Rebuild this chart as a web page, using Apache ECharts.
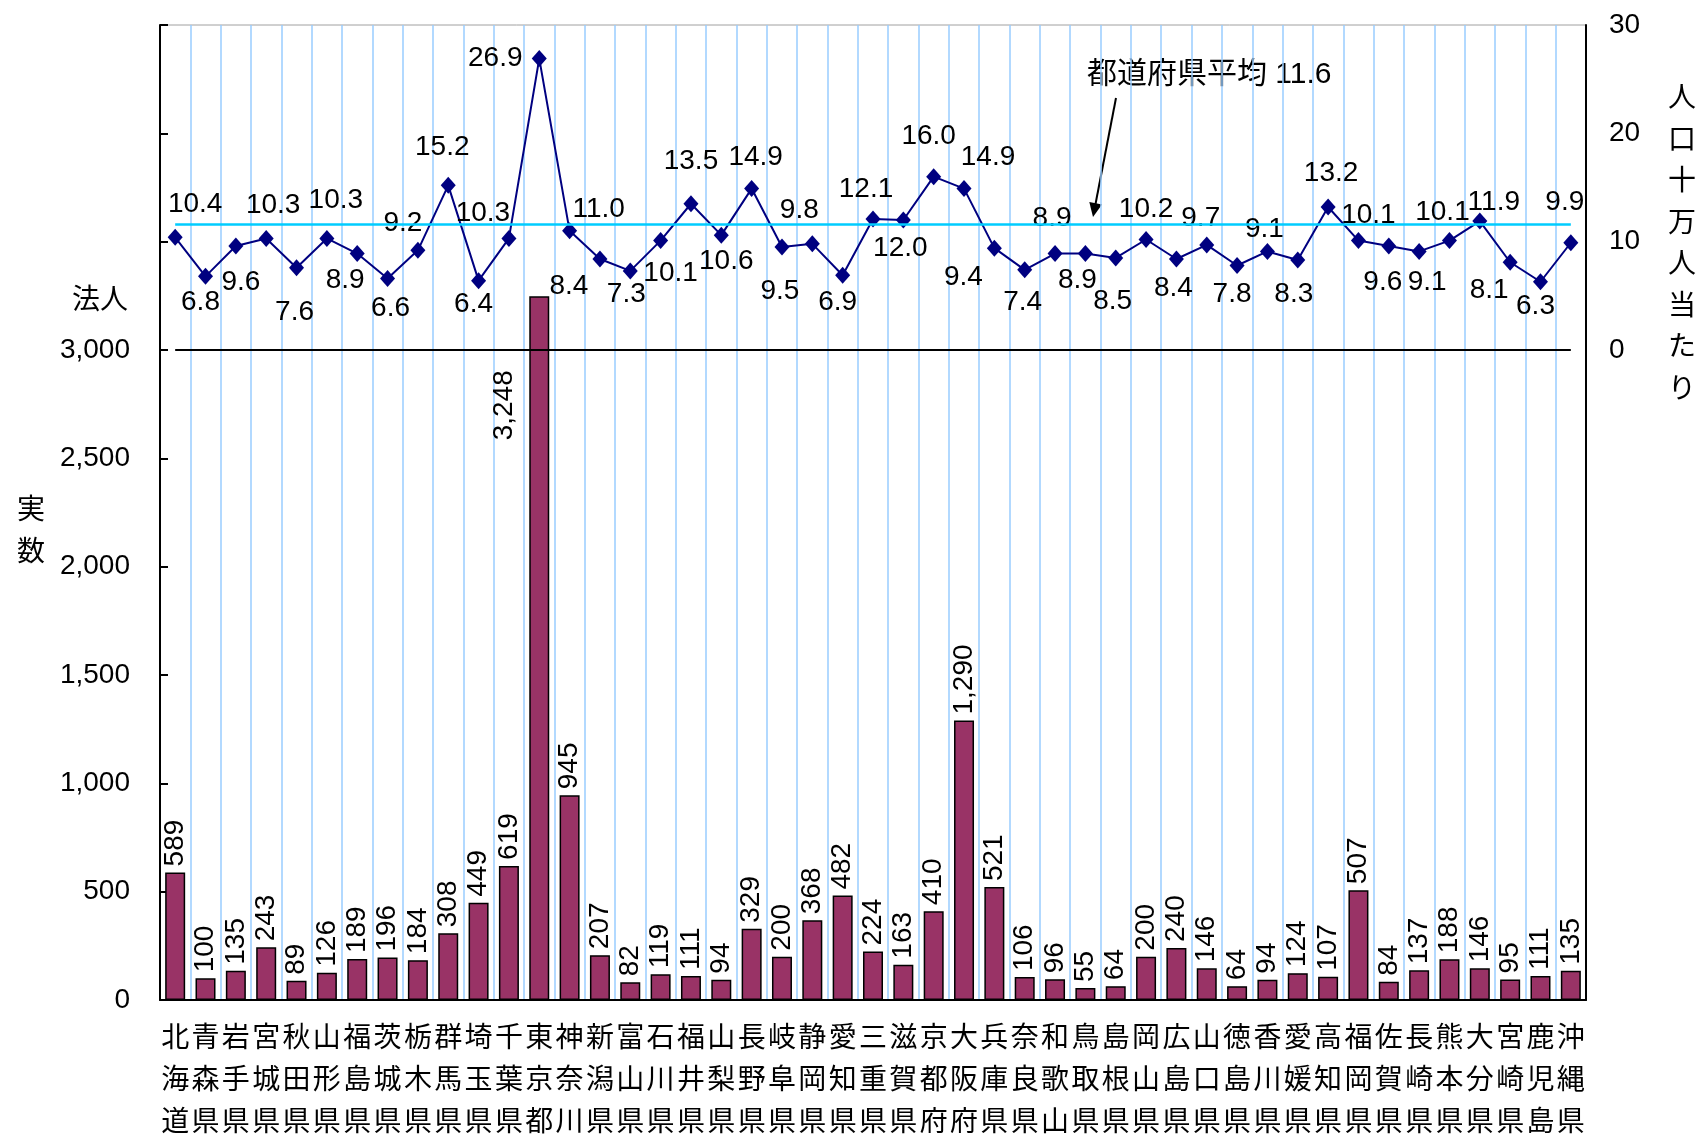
<!DOCTYPE html>
<html>
<head>
<meta charset="utf-8">
<title>都道府県別 法人数</title>
<script src="https://cdn.jsdelivr.net/npm/echarts@6/dist/echarts.min.js"></script>
<style>
  html, body { margin: 0; padding: 0; background: #fff; }
  #main { width: 1700px; height: 1134px; }
</style>
</head>
<body>
<div id="main"></div>
<script>
// data
var prefectures = ['北海道','青森県','岩手県','宮城県','秋田県','山形県','福島県','茨城県','栃木県','群馬県',
    '埼玉県','千葉県','東京都','神奈川県','新潟県','富山県','石川県','福井県','山梨県','長野県',
    '岐阜県','静岡県','愛知県','三重県','滋賀県','京都府','大阪府','兵庫県','奈良県','和歌山県',
    '鳥取県','島根県','岡山県','広島県','山口県','徳島県','香川県','愛媛県','高知県','福岡県',
    '佐賀県','長崎県','熊本県','大分県','宮崎県','鹿児島県','沖縄県'];
var counts = [589,100,135,243,89,126,189,196,184,308,
    449,619,3248,945,207,82,119,111,94,329,
    200,368,482,224,163,410,1290,521,106,96,
    55,64,200,240,146,64,94,124,107,507,
    84,137,188,146,95,111,135];
var perCapita = [10.4,6.8,9.6,10.3,7.6,10.3,8.9,6.6,9.2,15.2,
    6.4,10.3,26.9,11.0,8.4,7.3,10.1,13.5,10.6,14.9,
    9.5,9.8,6.9,12.1,12.0,16.0,14.9,9.4,7.4,8.9,
    8.9,8.5,10.2,8.4,9.7,7.8,9.1,8.3,13.2,10.1,
    9.6,9.1,10.1,11.9,8.1,6.3,9.9];
var average = 11.6;
var countTicks = [0, 500, 1000, 1500, 2000, 2500, 3000];
var rateTicks = [0, 10, 20, 30];

// where each per-capita label sits relative to its marker (px)
var rateLabelOffsets = [[20,-33],[-5,26],[5,36],[7,-33],[-2,45],[9,-38],[-12,27],[3,30],[-15,-27],[-6,-38],
    [-5,24],[-26,-25],[-44,0],[29,-22],[-31,27],[-4,23],[10,33],[0,-42],[5,26],[4,-31],
    [-2,44],[-13,-34],[-5,27],[-7,-30],[-3,28],[-5,-40],[24,-31],[-31,29],[-2,32],[-3,-35],
    [-8,27],[-3,43],[0,-30],[-3,29],[-6,-27],[-5,29],[-3,-22],[-4,34],[3,-34],[10,-25],
    [-6,36],[8,31],[-7,-28],[14,-19],[-21,28],[-5,25],[-6,-40]];

var FONT = 'Liberation Sans, Noto Sans CJK JP, sans-serif';

function comma(v) {
    return String(v).replace(/\B(?=(\d{3})+(?!\d))/g, ',');
}

var barData = counts.map(function (v, i) {
    if (v > 3000) {
        // tall bar: label sits to the left, below the top
        return { value: v, label: { position: [-25, 74], align: 'right', offset: [0, 0] } };
    }
    return v;
});

var lineData = perCapita.map(function (v, i) {
    return { value: v, label: { offset: rateLabelOffsets[i] } };
});

var dom = document.getElementById('main');
var myChart = echarts.init(dom);
var option = {
    backgroundColor: '#fff',
    animation: false,
    textStyle: { fontFamily: FONT },
    grid: {
        left: 160, right: 114, top: 25, bottom: 134,
        containLabel: false, outerBoundsMode: 'none',
        show: true, borderColor: '#a0a0a0', borderWidth: 1
    },
    xAxis: {
        type: 'category',
        data: prefectures,
        axisLine: { lineStyle: { color: '#000', width: 2 } },
        axisTick: { show: false },
        axisLabel: {
            interval: 0, margin: 18, fontSize: 28, lineHeight: 42, color: '#000', fontFamily: FONT,
            formatter: function (v) { return v.split('').join('\n'); }
        },
        splitLine: { show: true, interval: 0, lineStyle: { color: '#99ccff', width: 1.5 } }
    },
    yAxis: [
        {
            type: 'value', min: 0, max: 4500, interval: 500,
            axisLine: { show: true, lineStyle: { color: '#000', width: 2 } },
            axisTick: { show: true, inside: true, length: 8, lineStyle: { color: '#000', width: 2 } },
            axisLabel: {
                margin: 30, fontSize: 28, color: '#000', fontFamily: FONT,
                formatter: function (v) { return countTicks.indexOf(v) >= 0 ? comma(v) : ''; }
            },
            splitLine: { show: false }
        },
        {
            type: 'value', min: -60, max: 30, interval: 10, position: 'right',
            axisLine: { show: true, lineStyle: { color: '#000', width: 2 } },
            axisTick: { show: false },
            axisLabel: {
                margin: 23, fontSize: 28, color: '#000', fontFamily: FONT,
                formatter: function (v) { return rateTicks.indexOf(v) >= 0 ? String(v) : ''; }
            },
            splitLine: { show: false }
        }
    ],
    series: [
        {
            name: '実数',
            type: 'bar',
            yAxisIndex: 0,
            barWidth: 20,
            data: barData,
            itemStyle: { color: '#993366', borderColor: '#000', borderWidth: 1.5 },
            label: {
                show: true, position: 'top', rotate: 90, align: 'left', verticalAlign: 'middle',
                distance: 10, offset: [-4, 0], fontSize: 28, color: '#000', fontFamily: FONT,
                formatter: function (p) { return comma(p.value); }
            }
        },
        {
            name: '人口十万人当たり',
            type: 'line',
            yAxisIndex: 1,
            data: lineData,
            symbol: 'diamond',
            symbolSize: [15, 17],
            itemStyle: { color: '#000080' },
            lineStyle: { color: '#000080', width: 2 },
            label: {
                show: true, position: 'inside', fontSize: 28, color: '#000', fontFamily: FONT,
                formatter: function (p) { return p.value.toFixed(1); }
            },
            markLine: {
                silent: true,
                symbol: 'none',
                label: { show: false },
                data: [
                    [{ coord: [prefectures[0], average], lineStyle: { color: '#00ccff', width: 2.5, type: 'solid' } },
                     { coord: [prefectures[prefectures.length - 1], average] }],
                    [{ coord: [prefectures[0], 0], lineStyle: { color: '#000', width: 2, type: 'solid' } },
                     { coord: [prefectures[prefectures.length - 1], 0] }]
                ]
            }
        }
    ],
    graphic: [
        { type: 'text', x: 128, y: 301,
          style: { text: '法人', fontSize: 28, fontFamily: FONT, fill: '#000', align: 'right', verticalAlign: 'middle' } },
        { type: 'text', x: 31, y: 532,
          style: { text: '実\n数', fontSize: 28, lineHeight: 42, fontFamily: FONT, fill: '#000', align: 'center', verticalAlign: 'middle' } },
        { type: 'text', x: 1682, y: 245,
          style: { text: '人\n口\n十\n万\n人\n当\nた\nり', fontSize: 28, lineHeight: 41.5, fontFamily: FONT, fill: '#000', align: 'center', verticalAlign: 'middle' } },
        { type: 'text', x: 1087, y: 75,
          style: { text: '都道府県平均 ' + average.toFixed(1), fontSize: 30, fontFamily: FONT, fill: '#000', align: 'left', verticalAlign: 'middle' } },
        { type: 'line', shape: { x1: 1116, y1: 98, x2: 1095.5, y2: 204 },
          style: { stroke: '#000', lineWidth: 2 } },
        { type: 'polygon', shape: { points: [[1093, 217], [1102, 204.5], [1089.3, 202.1]] },
          style: { fill: '#000' } }
    ]
};

if (option && typeof option === 'object') {
    myChart.setOption(option, true);
}
</script>
</body>
</html>
